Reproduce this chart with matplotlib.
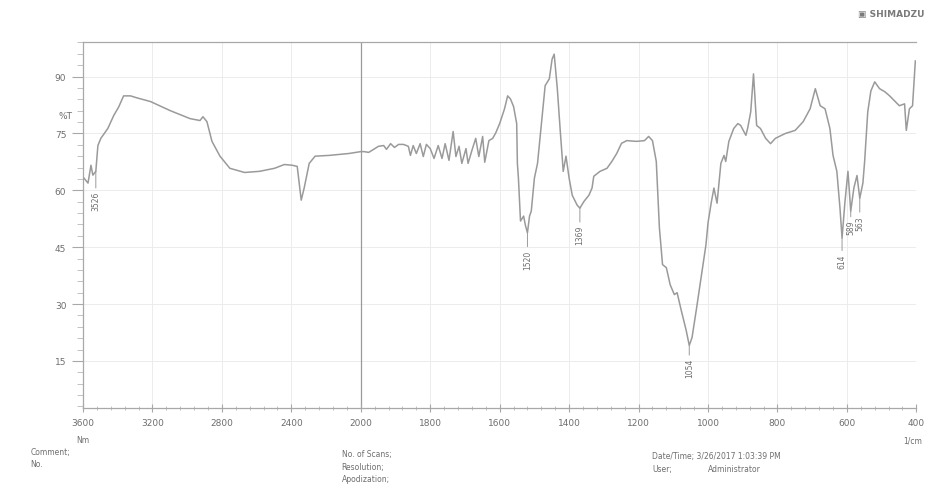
import numpy as np
import matplotlib
matplotlib.use("Agg")
import matplotlib.pyplot as plt
from matplotlib.ticker import FixedLocator, MultipleLocator

# ---------------- Spectrum data ----------------
wavenumber = [
    3594, 3571, 3554, 3543, 3526, 3514, 3497, 3457, 3423, 3394, 3366, 3326, 3291, 3211,
    3097, 2983, 2926, 2909, 2886, 2857, 2811, 2754, 2669, 2583, 2497, 2440, 2394, 2366,
    2343, 2326, 2297, 2263, 2183, 2069, 2000,
    1991, 1977, 1949, 1934, 1926, 1914, 1903, 1891, 1877, 1863, 1857, 1849, 1840, 1829,
    1820, 1811, 1800, 1789, 1777, 1766, 1757, 1746, 1734, 1726, 1717, 1709, 1697, 1691,
    1680, 1669, 1660, 1649, 1643, 1631, 1620, 1611, 1600, 1586, 1577, 1569, 1560, 1551,
    1549, 1546, 1540, 1531, 1526, 1520, 1514, 1509, 1500, 1491, 1477, 1469, 1457, 1449,
    1443, 1434, 1426, 1417, 1409, 1400, 1391, 1377, 1369, 1357, 1343, 1334, 1329, 1311,
    1291, 1277, 1263, 1249, 1234, 1206, 1183, 1171, 1160, 1149, 1140, 1131, 1120, 1109,
    1097, 1089, 1077, 1063, 1054, 1046, 1034, 1020, 1006, 1000, 991, 983, 974, 963,
    954, 949, 940, 926, 914, 906, 891, 886, 877, 869, 860, 849, 834, 820,
    806, 777, 749, 726, 706, 691, 677, 663, 649, 640, 629, 620, 614, 606,
    597, 589, 580, 571, 563, 554, 549, 540, 531, 520, 506, 491, 477, 463,
    449, 434, 429, 420, 411, 403,
]
transmittance = [
    63.2, 61.9, 66.6, 64.0, 65.0, 71.8, 73.7, 76.3, 79.7, 82.0, 84.9, 84.9, 84.4, 83.4,
    81.0, 78.9, 78.4, 79.4, 78.1, 72.9, 69.0, 65.8, 64.7, 65.0, 65.8, 66.8, 66.6, 66.3,
    57.4, 60.6, 67.1, 69.0, 69.2, 69.7, 70.2,
    70.2, 70.0, 71.6, 71.8, 70.8, 72.3, 71.3, 72.1, 72.1, 71.6, 69.2, 71.8, 69.7, 72.3,
    68.9, 72.1, 71.0, 68.4, 71.8, 68.4, 72.3, 67.9, 75.5, 68.9, 71.6, 67.1, 71.0, 67.1,
    70.5, 73.7, 68.9, 74.2, 67.4, 73.1, 73.7, 75.2, 77.6, 81.5, 84.9, 84.1, 82.1, 77.6,
    67.1, 63.2, 51.9, 53.2, 50.8, 48.8, 53.2, 54.5, 63.2, 67.1, 80.2, 87.6, 89.4, 94.6,
    95.9, 86.8, 76.3, 65.0, 69.0, 63.2, 58.7, 56.1, 55.3, 57.1, 58.7, 60.6, 63.7, 65.0,
    65.8, 67.6, 69.7, 72.4, 73.1, 72.9, 73.1, 74.2, 73.1, 67.6, 50.1, 40.4, 39.6, 35.1,
    32.5, 33.0, 28.3, 23.1, 19.1, 21.2, 28.3, 37.0, 45.6, 51.4, 56.6, 60.6, 56.6, 67.1,
    69.2, 67.6, 72.9, 76.3, 77.6, 77.1, 74.5, 76.3, 80.7, 90.7, 77.1, 76.3, 73.7, 72.3,
    73.7, 75.0, 75.8, 78.1, 81.5, 86.8, 82.3, 81.5, 76.3, 69.2, 65.0, 55.3, 47.4, 56.6,
    65.0, 54.5, 60.6, 63.9, 57.9, 61.9, 67.6, 80.7, 86.2, 88.6, 86.8, 86.0, 84.9, 83.6,
    82.3, 82.8, 75.8, 81.5, 82.3, 94.1,
]

# labelled peaks: wavenumber, %T, label drop (points)
peak_wn = [3526, 1520, 1369, 1054, 614, 589, 563]
peak_t = [65.0, 48.8, 55.3, 19.1, 47.4, 54.5, 57.9]
peak_drop = [14, 12, 12, 9, 11, 6, 12]

x_ticks = [3600, 3200, 2800, 2400, 2000, 1800, 1600, 1400, 1200, 1000, 800, 600, 400]
y_ticks = [15, 30, 45, 60, 75, 90]

GREY = "#9a9a9a"
TXT = "#6e6e6e"


# x axis compressed by 2 above 2000 1/cm (Shimadzu scale change)
def fwd(x):
    x = np.asarray(x, dtype=float)
    return np.where(x > 2000, 2000 + (x - 2000) / 2.0, x)


def inv(p):
    p = np.asarray(p, dtype=float)
    return np.where(p > 2000, 2000 + (p - 2000) * 2.0, p)


fig = plt.figure(figsize=(9.26, 5.02), dpi=100)
ax = fig.add_axes([0.0896, 0.1853, 0.900, 0.729])
ax.set_xscale("function", functions=(fwd, inv))
ax.set_xlim(3600, 400)
ax.set_ylim(2.6, 99.1)

# grid
for xv in x_ticks:
    if xv == 2000:
        ax.axvline(xv, color="#9a9a9a", lw=0.9, zorder=1)
    else:
        ax.axvline(xv, color="#ececec", lw=0.7, zorder=0)
for yv in y_ticks:
    ax.axhline(yv, color="#ececec", lw=0.7, zorder=0)

ax.plot(wavenumber, transmittance, color=GREY, lw=1.1, zorder=3)

# peak labels
for w, t, d in zip(peak_wn, peak_t, peak_drop):
    ax.annotate(f"{w:.0f}", xy=(w, t), xytext=(0, -d), textcoords="offset points",
                rotation=90, ha="center", va="top", fontsize=5.5, color=TXT,
                arrowprops=dict(arrowstyle="-", color=GREY, lw=0.7,
                                shrinkA=0, shrinkB=0), zorder=4)

# axes styling
ax.spines["right"].set_visible(False)
for s in ["left", "top", "bottom"]:
    ax.spines[s].set_color("#a8a8a8")
    ax.spines[s].set_linewidth(0.9)

ax.xaxis.set_major_locator(FixedLocator(x_ticks))
ax.set_xticklabels([str(v) for v in x_ticks])
minor_x = list(np.arange(3600, 2000, -80)) + list(np.arange(2000, 399, -40))
ax.xaxis.set_minor_locator(FixedLocator(minor_x))
ax.yaxis.set_major_locator(FixedLocator(y_ticks))
ax.yaxis.set_minor_locator(MultipleLocator(3))

ax.tick_params(axis="x", which="major", direction="inout", length=6, width=0.8,
               color="#a8a8a8", labelsize=6.5, labelcolor=TXT, pad=4)
ax.tick_params(axis="x", which="minor", direction="inout", length=3, width=0.6,
               color="#b8b8b8")
ax.tick_params(axis="y", which="major", direction="out", length=8, width=0.8,
               color="#a8a8a8", labelsize=6.5, labelcolor=TXT, pad=4)
ax.tick_params(axis="y", which="minor", direction="out", length=4, width=0.6,
               color="#b8b8b8")

ax.text(-0.012, 0.80, "%T", transform=ax.transAxes, ha="right", va="center",
        fontsize=6.5, color=TXT)
ax.text(0.0, -0.075, "Nm", transform=ax.transAxes, ha="center", va="top",
        fontsize=5.5, color=TXT)
ax.text(0.995, -0.075, "1/cm", transform=ax.transAxes, ha="center", va="top",
        fontsize=5.5, color=TXT)

# header / footer text
fig.text(0.998, 0.972, "\u25A3 SHIMADZU", ha="right", va="center", fontsize=6.5,
         color="#7a7a7a", fontweight="bold")
fig.text(0.033, 0.098, "Comment;", fontsize=5.5, color=TXT, va="center")
fig.text(0.033, 0.074, "No.", fontsize=5.5, color=TXT, va="center")
fig.text(0.369, 0.094, "No. of Scans;", fontsize=5.5, color=TXT, va="center")
fig.text(0.369, 0.069, "Resolution;", fontsize=5.5, color=TXT, va="center")
fig.text(0.369, 0.044, "Apodization;", fontsize=5.5, color=TXT, va="center")
fig.text(0.704, 0.090, "Date/Time; 3/26/2017 1:03:39 PM", fontsize=5.5, color=TXT,
         va="center")
fig.text(0.704, 0.064, "User;", fontsize=5.5, color=TXT, va="center")
fig.text(0.765, 0.064, "Administrator", fontsize=5.5, color=TXT, va="center")

fig.savefig("out.png", dpi=100)
